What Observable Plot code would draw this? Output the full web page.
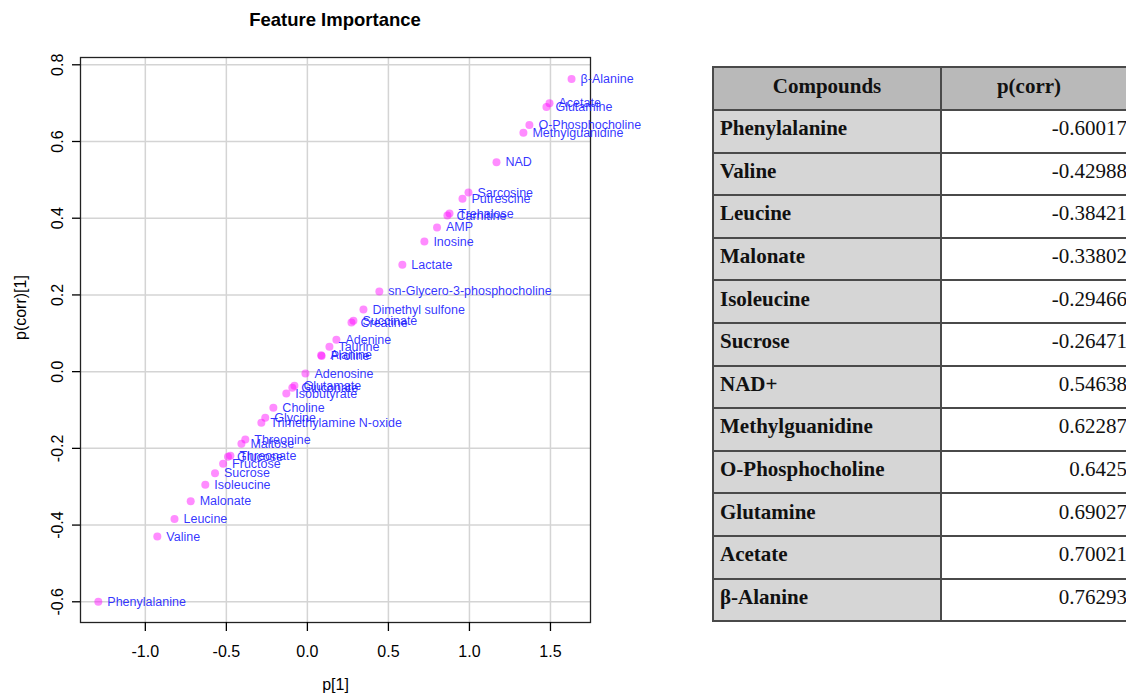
<!DOCTYPE html>
<html>
<head>
<meta charset="utf-8">
<script src="https://cdn.jsdelivr.net/npm/d3@7"></script>
<script src="https://cdn.jsdelivr.net/npm/@observablehq/plot@0.6"></script>
<style>
  html, body { margin: 0; padding: 0; background: #fff; }
  body { width: 1126px; height: 697px; overflow: hidden; position: relative; font-family: "Liberation Sans", Arial, sans-serif; }
  #title { position: absolute; left: 0; width: 670px; top: 9px; text-align: center; font-weight: bold; font-size: 18.5px; color: #000; }
  #chart { position: absolute; left: 0; top: 40px; }
  #tblwrap { position: absolute; left: 712px; top: 66px; width: 440px; }
  #tbl { border-collapse: collapse; font-family: "Liberation Serif", "Times New Roman", serif; font-size: 21px; color: #111; table-layout: fixed; width: 430px; }
  #tbl td, #tbl th { border: 2px solid #4a4a4a; padding: 0 6px 5px 6px; box-sizing: border-box; white-space: nowrap; }
  #tbl th { background: #b9b9b9; font-weight: bold; text-align: center; }
  #tbl th.h2 { padding-right: 32px; }
  #tbl td.name { background: #d6d6d6; font-weight: bold; text-align: left; }
  #tbl td.val { background: #fff; text-align: right; padding-right: 15px; }
</style>
</head>
<body>
<div id="title">Feature Importance</div>
<div id="chart"></div>
<div id="tblwrap"><table id="tbl"></table></div>
<script>
// ---- scatter data ----
const compounds = [
  "Phenylalanine","Valine","Leucine","Malonate","Isoleucine","Sucrose","Fructose","Glucose","Threonate",
  "Maltose","Threonine","Trimethylamine N-oxide","Glycine","Choline","Isobutyrate","Gluconate","Glutamate",
  "Adenosine","Alanine","Proline","Taurine","Adenine","Creatine","Succinate","Dimethyl sulfone",
  "sn-Glycero-3-phosphocholine","Lactate","Inosine","AMP","Carnitine","Trehalose","Putrescine","Sarcosine",
  "NAD","Methylguanidine","O-Phosphocholine","Glutamine","Acetate","β-Alanine"
];
const p1 = [
  -1.29,-0.926,-0.82,-0.72,-0.63,-0.57,-0.52,-0.49,-0.475,
  -0.407,-0.383,-0.284,-0.26,-0.21,-0.13,-0.093,-0.08,
  -0.012,0.085,0.088,0.136,0.179,0.272,0.284,0.346,
  0.444,0.586,0.722,0.80,0.864,0.877,0.957,0.994,
  1.167,1.333,1.37,1.475,1.494,1.63
];
const pcorr = [
  -0.600,-0.430,-0.384,-0.338,-0.295,-0.265,-0.240,-0.222,-0.219,
  -0.188,-0.177,-0.133,-0.120,-0.094,-0.057,-0.042,-0.037,
  -0.005,0.043,0.041,0.065,0.083,0.128,0.133,0.162,
  0.209,0.279,0.339,0.376,0.407,0.412,0.451,0.467,
  0.546,0.623,0.643,0.690,0.700,0.763
];
const xTicks = [-1.0,-0.5,0.0,0.5,1.0,1.5];
const yTicks = [-0.6,-0.4,-0.2,0.0,0.2,0.4,0.6,0.8];

// ---- table data ----
const tableHeader = ["Compounds","p(corr)"];
const tableNames = ["Phenylalanine","Valine","Leucine","Malonate","Isoleucine","Sucrose","NAD+","Methylguanidine","O-Phosphocholine","Glutamine","Acetate","β-Alanine"];
const tableValues = ["-0.60017","-0.42988","-0.38421","-0.33802","-0.29466","-0.26471","0.54638","0.62287","0.6425","0.69027","0.70021","0.76293"];

const points = compounds.map((name, i) => ({name, x: p1[i], y: pcorr[i]}));
const fmt = d => d.toFixed(1);

const chart = Plot.plot({
  width: 660,
  height: 657,
  marginLeft: 80,
  marginRight: 70,
  marginTop: 17,
  marginBottom: 75,
  style: {fontFamily: "'Liberation Sans', Arial, sans-serif", fontSize: "16px", color: "#000", background: "transparent"},
  x: {domain: [-1.40, 1.747]},
  y: {domain: [-0.654, 0.819]},
  marks: [
    Plot.gridX(xTicks, {stroke: "#d4d4d4", strokeOpacity: 1, strokeWidth: 1.5}),
    Plot.gridY(yTicks, {stroke: "#d4d4d4", strokeOpacity: 1, strokeWidth: 1.5}),
    Plot.frame({stroke: "#222", strokeWidth: 1.3}),
    Plot.axisX(xTicks, {tickSize: 9, tickPadding: 14, tickFormat: fmt, label: null, fontSize: 16, strokeWidth: 1.3}),
    Plot.axisY(yTicks, {tickSize: 8, tickPadding: 10, tickRotate: -90, tickFormat: fmt, label: null, fontSize: 16, strokeWidth: 1.3}),
    Plot.dot(points, {x: "x", y: "y", r: 4, fill: "#ff00ff", fillOpacity: 0.45, stroke: "none"}),
    Plot.text(points, {x: "x", y: "y", text: "name", dx: 9, textAnchor: "start", fill: "#1a1aff", fillOpacity: 0.9, fontSize: 12.5}),
    Plot.text(["p[1]"], {text: d => d, frameAnchor: "bottom", dy: 67, fontSize: 16}),
    Plot.text(["p(corr)[1]"], {text: d => d, frameAnchor: "left", dx: -60, rotate: -90, fontSize: 16})
  ]
});
document.getElementById("chart").appendChild(chart);

// ---- table ----
const tbl = d3.select("#tbl");
const colgroup = tbl.append("colgroup");
colgroup.append("col").style("width", "228px");
colgroup.append("col").style("width", "202px");
const hr = tbl.append("tr");
tableHeader.forEach((h, i) => hr.append("th").attr("class", "h" + (i + 1)).style("height", "43px").text(h));
tableNames.forEach((n, i) => {
  const tr = tbl.append("tr");
  tr.append("td").attr("class", "name").style("height", "42.6px").text(n);
  tr.append("td").attr("class", "val").style("height", "42.6px").text(tableValues[i]);
});
</script>
</body>
</html>
